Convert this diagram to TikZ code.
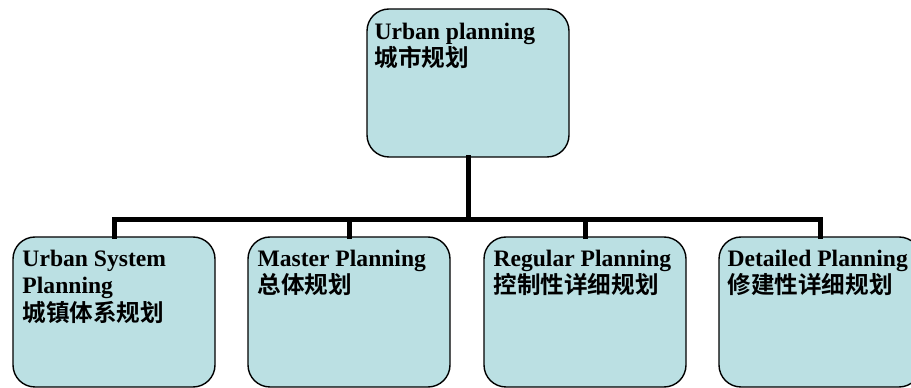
\documentclass[tikz,border=0pt]{standalone}
\usepackage{fontspec}
\setmainfont{Liberation Serif}
\newfontfamily\cjkfont{Noto Sans CJK SC}[BoldFont={* Bold}]
\definecolor{boxfill}{RGB}{187,224,227}
\tikzset{
  pbox/.style={draw=black, line width=1.4pt, fill=boxfill, rounded corners=22pt,
    minimum width=202pt, minimum height=148pt, inner sep=0pt},
  ptext/.style={anchor=base west, inner sep=0pt, font=\fontsize{23.6}{27.5}\selectfont\bfseries},
  conn/.style={line width=5pt, line join=miter, line cap=rect}
}
\begin{document}
\begin{tikzpicture}[x=1pt,y=1pt]
\clip (0,0) rectangle (911,388);
\coordinate (j) at (468,168);
\node[pbox] (top) at (468,305) {};
\node[pbox, minimum height=150pt] (b1) at (114,76) {};
\node[pbox, minimum height=150pt] (b2) at (349,76) {};
\node[pbox, minimum height=150pt] (b3) at (585,76) {};
\node[pbox, minimum height=150pt] (b4) at (820,76) {};
\draw[conn] (top.south) -- (j);
\draw[conn] (b1.north) -- (b1.north |- j) -- (b4.north |- j) -- (b4.north);
\draw[conn] (b2.north) -- (b2.north |- j);
\draw[conn] (b3.north) -- (b3.north |- j);
\node[ptext] (t0) at ([xshift=8pt,yshift=-31pt]top.north west)
  {\parbox[t]{200pt}{\raggedright Urban planning\\{\cjkfont 城市规划}}};
\node[ptext] (t1) at ([xshift=10pt,yshift=-30pt]b1.north west)
  {\parbox[t]{200pt}{\raggedright Urban System\\Planning\\{\cjkfont 城镇体系规划}}};
\node[ptext] (t2) at ([xshift=10pt,yshift=-30pt]b2.north west)
  {\parbox[t]{200pt}{\raggedright Master Planning\\{\cjkfont 总体规划}}};
\node[ptext] (t3) at ([xshift=10pt,yshift=-30pt]b3.north west)
  {\parbox[t]{200pt}{\raggedright Regular Planning\\{\cjkfont 控制性详细规划}}};
\node[ptext] (t4) at ([xshift=9pt,yshift=-30pt]b4.north west)
  {\parbox[t]{200pt}{\raggedright Detailed Planning\\{\cjkfont 修建性详细规划}}};
\end{tikzpicture}
\end{document}
